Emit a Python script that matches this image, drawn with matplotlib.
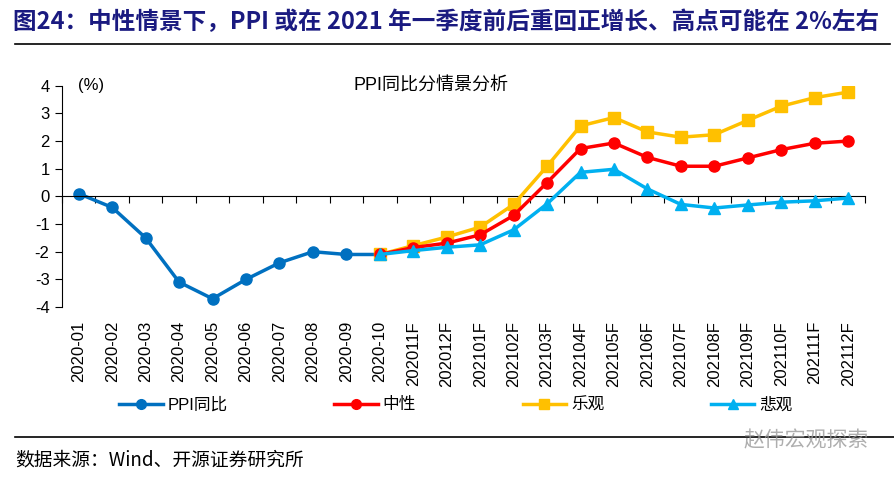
import numpy as np
import matplotlib.pyplot as plt
from matplotlib.lines import Line2D

plt.rcParams['font.family'] = ['Liberation Sans', 'Noto Sans CJK SC', 'DejaVu Sans']
plt.rcParams['axes.unicode_minus'] = False

months = ['2020-01', '2020-02', '2020-03', '2020-04', '2020-05', '2020-06',
          '2020-07', '2020-08', '2020-09', '2020-10', '202011F', '202012F',
          '202101F', '202102F', '202103F', '202104F', '202105F', '202106F',
          '202107F', '202108F', '202109F', '202110F', '202111F', '202112F']

# actual PPI yoy (first 10 months)
ppi = [0.1, -0.4, -1.5, -3.1, -3.7, -3.0, -2.4, -2.0, -2.1, -2.1]
# scenarios start at 2020-10
neutral = [-2.1, -1.85, -1.69, -1.39, -0.69, 0.5, 1.73, 1.93, 1.41, 1.09,
           1.09, 1.39, 1.69, 1.92, 2.0]
optimistic = [-2.1, -1.78, -1.47, -1.11, -0.29, 1.09, 2.55, 2.85, 2.33, 2.14,
              2.23, 2.75, 3.26, 3.57, 3.77]
pessimistic = [-2.1, -1.96, -1.84, -1.75, -1.21, -0.27, 0.87, 0.98, 0.27, -0.29,
               -0.42, -0.31, -0.21, -0.16, -0.06]

series_names = ['PPI同比', '中性', '乐观', '悲观']
colors = ['#0070C0', '#FF0000', '#FFC000', '#00B0F0']

fig = plt.figure(figsize=(8.94, 4.79), dpi=100)
ax = fig.add_axes([0.0694, 0.359, 0.898, 0.462])

x_all = np.arange(len(months))
x_fc = x_all[9:]

ax.plot(x_fc, optimistic, color=colors[2], lw=2.5, marker='s', ms=8, zorder=3)
ax.plot(x_fc, neutral, color=colors[1], lw=2.5, marker='o', ms=8, zorder=4)
ax.plot(x_fc, pessimistic, color=colors[3], lw=2.5, marker='^', ms=8, zorder=5)
ax.plot(x_all[:10], ppi, color=colors[0], lw=2.5, marker='o', ms=8, zorder=2)

ax.set_xlim(-0.5, len(months) - 0.5)
ax.set_ylim(-4, 4)
ax.set_yticks(range(-4, 5))
ax.tick_params(axis='y', direction='out', length=5, labelsize=12, pad=4)

for s in ['top', 'right']:
    ax.spines[s].set_visible(False)
ax.spines['bottom'].set_position(('data', 0))
ax.set_xticks(np.arange(-0.5, len(months)))
ax.tick_params(axis='x', direction='out', length=5, labelbottom=False)

sec = ax.secondary_xaxis(location=0)
sec.set_xticks(x_all)
sec.set_xticklabels(months, rotation=90, fontsize=12)
sec.tick_params(length=0, pad=10)
sec.spines['bottom'].set_visible(False)

ax.text(0.02, 1.0, '(%)', transform=ax.transAxes, fontsize=12, va='center', ha='left')
ax.text(0.46, 1.0, 'PPI同比分情景分析', transform=ax.transAxes, fontsize=13,
        va='center', ha='center')

handles = [Line2D([], [], color=colors[0], lw=2.5, marker='o', ms=7),
           Line2D([], [], color=colors[1], lw=2.5, marker='o', ms=7),
           Line2D([], [], color=colors[2], lw=2.5, marker='s', ms=7),
           Line2D([], [], color=colors[3], lw=2.5, marker='^', ms=7)]
fig.legend(handles, series_names, loc='center', bbox_to_anchor=(0.51, 0.155),
           ncol=4, frameon=False, fontsize=12, handlelength=2.6,
           columnspacing=6.4, handletextpad=0.3)

fig.text(0.014, 0.955, '图24：中性情景下，PPI 或在 2021 年一季度前后重回正增长、高点可能在 2%左右',
         fontsize=17, fontweight='bold', color='#1A1A80', va='center', ha='left',
         family=['Noto Sans CJK SC', 'DejaVu Sans'])
fig.add_artist(Line2D([0.017, 0.995], [0.908, 0.908], color='black', lw=1.2))
fig.add_artist(Line2D([0.017, 1.0], [0.088, 0.088], color='black', lw=1.2))
fig.text(0.017, 0.04, '数据来源：Wind、开源证券研究所', fontsize=13.5,
         va='center', ha='left', family=['Noto Sans CJK SC', 'DejaVu Sans'])
fig.text(0.972, 0.08, '赵伟宏观探索', fontsize=15, color='#9a9a9a', alpha=0.8,
         va='center', ha='right', family=['Noto Sans CJK SC', 'DejaVu Sans'])

fig.savefig('out.png', dpi=100)
